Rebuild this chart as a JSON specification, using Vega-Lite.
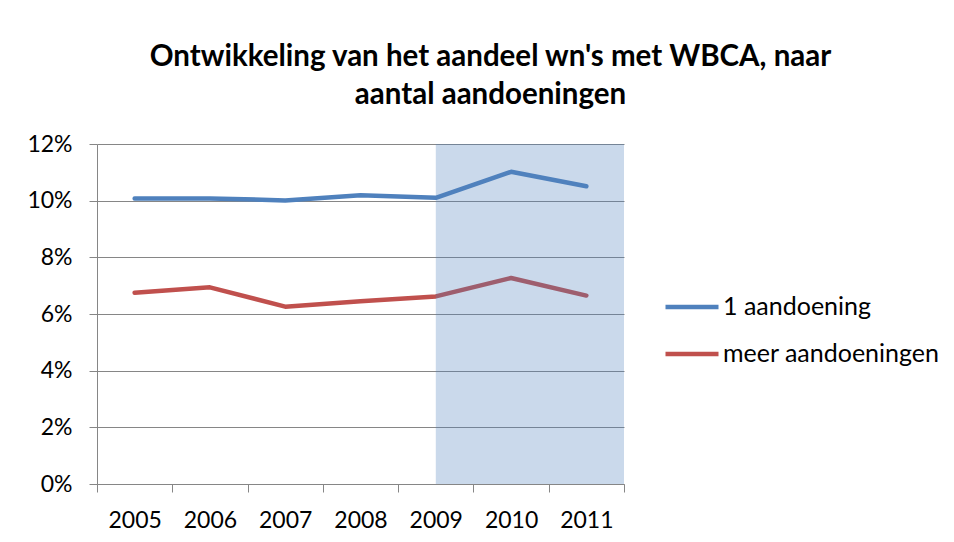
{
  "$schema": "https://vega.github.io/schema/vega-lite/v6.json",
  "width": 527,
  "height": 340,
  "autosize": {"type": "none"},
  "padding": {"left": 97, "top": 144, "right": 330, "bottom": 58},
  "background": "white",
  "title": {
    "text": ["Ontwikkeling van het aandeel wn's met WBCA, naar", "aantal aandoeningen"],
    "font": "Lato",
    "fontSize": 29.5,
    "fontWeight": "bold",
    "color": "#000000",
    "lineHeight": 38,
    "anchor": "middle",
    "frame": "group",
    "dx": 130,
    "offset": 23
  },
  "datasets": {
    "series": [
      {"year": "2005", "serie": "1 aandoening", "value": 0.1008},
      {"year": "2006", "serie": "1 aandoening", "value": 0.1008},
      {"year": "2007", "serie": "1 aandoening", "value": 0.1001},
      {"year": "2008", "serie": "1 aandoening", "value": 0.1019},
      {"year": "2009", "serie": "1 aandoening", "value": 0.1010},
      {"year": "2010", "serie": "1 aandoening", "value": 0.1102},
      {"year": "2011", "serie": "1 aandoening", "value": 0.1051},
      {"year": "2005", "serie": "meer aandoeningen", "value": 0.0675},
      {"year": "2006", "serie": "meer aandoeningen", "value": 0.0694},
      {"year": "2007", "serie": "meer aandoeningen", "value": 0.0626},
      {"year": "2008", "serie": "meer aandoeningen", "value": 0.0645},
      {"year": "2009", "serie": "meer aandoeningen", "value": 0.0662},
      {"year": "2010", "serie": "meer aandoeningen", "value": 0.0727},
      {"year": "2011", "serie": "meer aandoeningen", "value": 0.0665}
    ],
    "shade": [
      {"from": "2009", "to": "2011"}
    ]
  },
  "encoding": {
    "x": {
      "field": "year",
      "type": "ordinal",
      "scale": {"type": "band", "paddingInner": 0, "paddingOuter": 0, "domain": ["2005", "2006", "2007", "2008", "2009", "2010", "2011"]},
      "axis": {
        "title": null,
        "labelAngle": 0,
        "tickBand": "extent",
        "tickSize": 8,
        "tickColor": "#868686",
        "domainColor": "#868686",
        "labelFont": "Lato",
        "labelFontSize": 23,
        "labelColor": "#000000",
        "labelPadding": 17,
        "grid": false
      }
    }
  },
  "layer": [
    {
      "data": {"name": "series"},
      "mark": {"type": "line", "strokeWidth": 4.5, "strokeCap": "round", "strokeJoin": "round"},
      "encoding": {
        "x": {"field": "year", "type": "ordinal"},
        "y": {
          "field": "value",
          "type": "quantitative",
          "scale": {"domain": [0, 0.12], "nice": false},
          "axis": {
            "title": null,
            "values": [0, 0.02, 0.04, 0.06, 0.08, 0.1, 0.12],
            "format": ".0%",
            "grid": true,
            "gridColor": "#868686",
            "gridWidth": 1,
            "tickSize": 8,
            "tickColor": "#868686",
            "domainColor": "#868686",
            "labelFont": "Lato",
            "labelFontSize": 23,
            "labelColor": "#000000",
            "labelPadding": 17
          }
        },
        "color": {
          "field": "serie",
          "type": "nominal",
          "scale": {"domain": ["1 aandoening", "meer aandoeningen"], "range": ["#4F81BD", "#C0504D"]},
          "legend": {
            "title": null,
            "orient": "none",
            "legendX": 566,
            "legendY": 134,
            "symbolType": "stroke",
            "symbolSize": 2809,
            "symbolStrokeWidth": 4.5,
            "labelFont": "Lato",
            "labelFontSize": 25,
            "labelColor": "#000000",
            "labelOffset": 2,
            "labelLimit": 400,
            "rowPadding": 5
          }
        }
      }
    },
    {
      "data": {"name": "shade"},
      "mark": {"type": "rect", "color": "#4F81BD", "opacity": 0.3},
      "encoding": {
        "x": {"field": "from", "type": "ordinal", "bandPosition": 0.5},
        "x2": {"field": "to", "bandPosition": 1}
      }
    }
  ],
  "config": {
    "view": {"stroke": null}
  }
}
